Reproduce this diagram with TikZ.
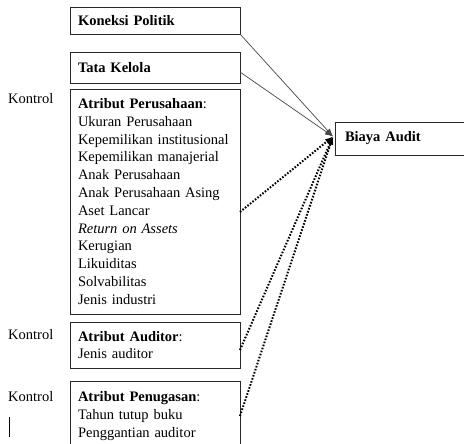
\documentclass[tikz,border=0pt]{standalone}
\usepackage{fontspec}
\setmainfont{Liberation Serif}
\usetikzlibrary{positioning,arrows.meta}
\usepackage{xcolor}
\definecolor{garis}{RGB}{40,40,40}
\definecolor{panahabu}{RGB}{70,70,70}

\begin{document}
\begin{tikzpicture}[x=1pt, y=-1pt, >={Latex[length=8pt,width=6pt]},
        font=\fontsize{14.5}{17.8}\selectfont,
        kotak/.style={draw=garis, line width=0.8pt, rectangle, outer sep=0pt, text width=154pt, align=left, inner xsep=8pt, inner ysep=8pt},
        panah/.style={->, draw=panahabu, line width=0.7pt},
        panahtitik/.style={->, line width=2pt, dash pattern=on 1.6pt off 1.6pt}]
        \useasboundingbox (0,0) rectangle (464,444);
        \clip (0,0) rectangle (464,444);

        \node[kotak, anchor=north west, minimum height=27pt] (koneksi) at (70,7) {\textbf{Koneksi Politik}};
        \node[kotak, minimum height=31pt, below=18pt of koneksi] (tata) {\textbf{Tata Kelola}};
        \node[kotak, minimum height=225pt, below=6pt of tata] (perusahaan) {\textbf{Atribut Perusahaan}:\\
            Ukuran Perusahaan\\
            Kepemilikan institusional\\
            Kepemilikan manajerial\\
            Anak Perusahaan\\
            Anak Perusahaan Asing\\
            Aset Lancar\\
            \textit{Return on Assets}\\
            Kerugian\\
            Likuiditas\\
            Solvabilitas\\
            Jenis industri};
        \node[kotak, minimum height=46pt, below=8pt of perusahaan] (auditor) {\textbf{Atribut Auditor}:\\
            Jenis auditor};
        \node[kotak, minimum height=70pt, below=13pt of auditor] (penugasan) {\textbf{Atribut Penugasan}:\\
            Tahun tutup buku\\
            Penggantian auditor};

        \node[kotak, anchor=north west, text width=150pt, inner xsep=10pt, minimum height=33pt] (biaya) at (335,122) {\textbf{Biaya Audit}};

        % label kontrol
        \node[anchor=west, inner sep=0pt] (kontrol1) at (8,99) {Kontrol};
        \node[anchor=west, inner sep=0pt] (kontrol2) at (8,335) {Kontrol};
        \node[anchor=west, inner sep=0pt] (kontrol3) at (8,397) {Kontrol};
        \draw[line width=1.6pt] (9.5,417) -- (9.5,437);

        \coordinate (masuk) at ([xshift=-2pt, yshift=2pt]biaya.west);
        \draw[panah] (koneksi.south east) -- (masuk);
        \draw[panah] ([yshift=-4.5pt]tata.east) -- (masuk);
        \draw[panahtitik] ([yshift=-10.5pt]perusahaan.east) -- (masuk);
        \draw[panahtitik] ([yshift=-5pt]auditor.east) -- (masuk);
        \draw[panahtitik] (penugasan.east) -- (masuk);
    \end{tikzpicture}
\end{document}
